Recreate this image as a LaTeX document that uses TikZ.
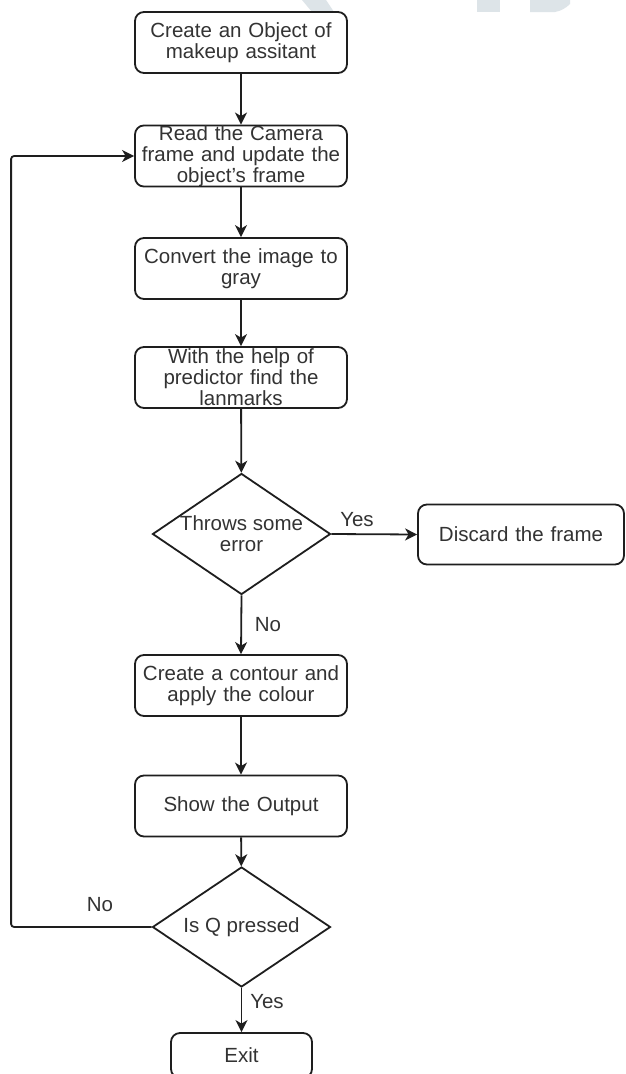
\documentclass[tikz,border=0pt]{standalone}
\usepackage{fontspec}
\setmainfont{Liberation Sans}
\usetikzlibrary{arrows.meta,shapes.geometric}
\definecolor{ink}{HTML}{1E1E1E}
\definecolor{txt}{HTML}{333333}
\definecolor{wm}{HTML}{DDE4E8}
\begin{document}
\begin{tikzpicture}[x=1pt,y=-1pt,
  every node/.style={font=\fontsize{20.5pt}{21pt}\selectfont, text=txt},
  stepbox/.style={draw=ink, line width=1.8pt, rounded corners=9pt, minimum width=212pt,
    minimum height=61pt, inner sep=0pt, align=center, text width=210pt},
  decision/.style={diamond, draw=ink, line width=1.8pt, minimum width=178pt,
    minimum height=121pt, inner sep=0pt},
  arr/.style={draw=ink, line width=1.8pt, -{Stealth[length=12pt,width=12pt,inset=3.5pt]}},
  lbl/.style={inner sep=0pt}]
\useasboundingbox (0,0) rectangle (626,1074);
\fill[white] (0,0) rectangle (626,1074);
% faint watermark
\fill[wm] (302,0) -- (326,0) -- (334,12) -- (312,12) -- cycle;
\fill[wm] (477,0) rectangle (500,12);
\fill[wm] (530,0) -- (570,0) -- (570,4) .. controls (566,8) and (561,11) .. (555,12) -- (530,12) -- cycle;

\node[stepbox] (b1) at (241,42.5) {Create an Object of\\makeup assitant};
\node[stepbox] (b2) at (241,156) {Read the Camera\\frame and update the\\object's frame};
\node[stepbox] (b3) at (241,268.5) {Convert the image to\\gray};
\node[stepbox] (b4) at (241,377.5) {With the help of\\predictor find the\\lanmarks};
\node[decision] (d1) at (241.5,534) {};
\node[align=center, inner sep=0pt] (d1t) at (d1.center) {Throws some\\error};
\node[stepbox, minimum width=206pt, text width=204pt, minimum height=60pt] (disc) at (521,534.5) {Discard the frame};
\node[stepbox] (b5) at (241,685.5) {Create a contour and\\apply the colour};
\node[stepbox] (b6) at (241,806) {Show the Output};
\node[decision, minimum height=120pt] (d2) at (241.5,927) {};
\node[inner sep=0pt] (d2t) at (d2.center) {Is Q pressed};
\node[stepbox, minimum width=141pt, text width=139pt, minimum height=45pt] (ex) at (241.5,1055.5) {Exit};

\draw[arr] (b1) -- (b2);
\draw[arr] (b2) -- (b3);
\draw[arr] (b3) -- (b4);
\draw[arr] (b4) -- (d1);
\draw[arr] (d1.east) -- (disc.west);
\draw[arr] (d1.south) -- (b5.north);
\draw[arr] (b5) -- (b6);
\draw[arr] (b6) -- (d2);
\draw[arr] (d2.south) -- (ex.north);
\draw[arr, rounded corners=3pt] (d2.west) -- ++(-140.5,0) |- (b2.west);

\node[lbl] (l1) at (357,520) {Yes};
\node[lbl] (l2) at (268,625) {No};
\node[lbl] (l3) at (100,905) {No};
\node[lbl] (l4) at (267,1002) {Yes};
\end{tikzpicture}
\end{document}
